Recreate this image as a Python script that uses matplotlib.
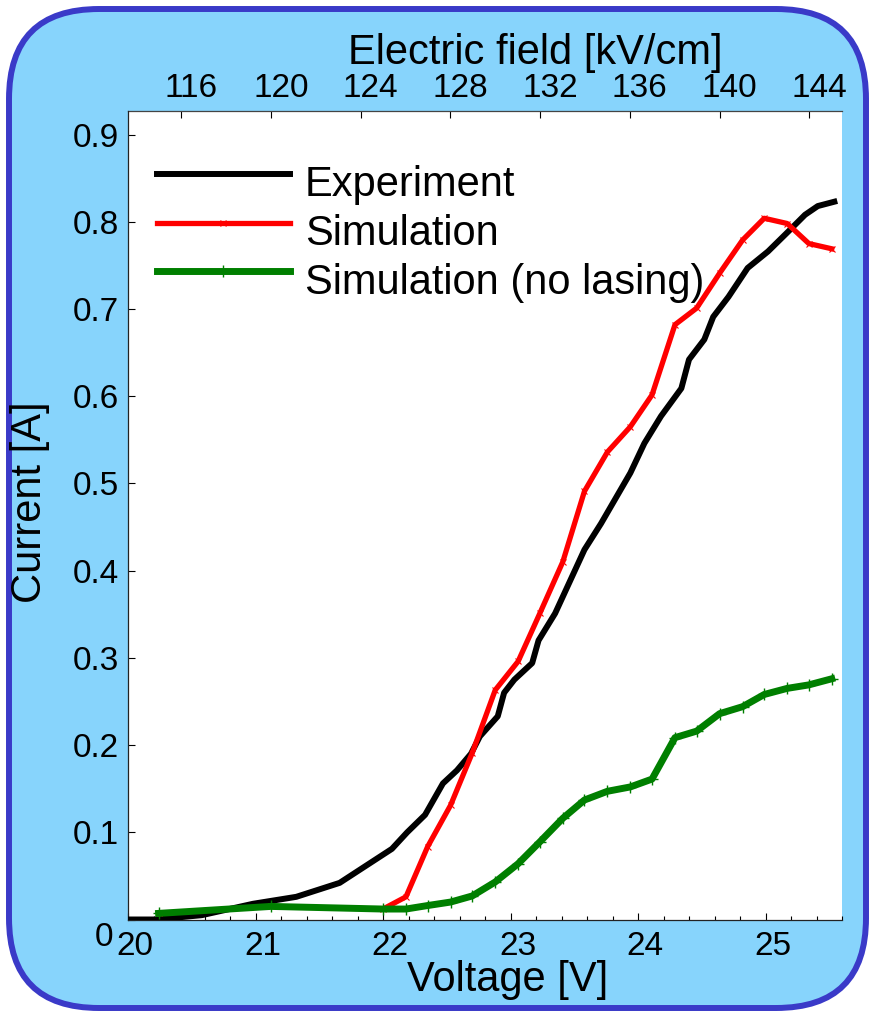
"""Current-voltage characteristic: experiment vs. simulation, with field scale on top."""
import matplotlib; matplotlib.use('Agg')
import matplotlib.pyplot as plt
from matplotlib.patches import FancyBboxPatch
from matplotlib.transforms import Affine2D, ScaledTranslation
from matplotlib.ticker import MultipleLocator

plt.rcParams['font.family'] = ['Liberation Sans', 'DejaVu Sans']

W, H = 875, 1014

# ----- measured curve -----
exp_volt = [20.00, 20.22, 20.58, 20.98, 21.32, 21.66, 22.07, 22.19, 22.33, 22.47,
            22.58, 22.69, 22.76, 22.90, 22.95, 23.03, 23.17, 23.22, 23.35, 23.58,
            23.71, 23.94, 24.05, 24.18, 24.34, 24.40, 24.52, 24.59, 24.71, 24.86,
            25.02, 25.18, 25.31, 25.41, 25.54]
exp_curr = [0.000, 0.000, 0.005, 0.018, 0.026, 0.042, 0.081, 0.100, 0.120, 0.156,
            0.171, 0.190, 0.210, 0.233, 0.260, 0.275, 0.294, 0.320, 0.351, 0.424,
            0.454, 0.512, 0.546, 0.577, 0.609, 0.642, 0.665, 0.691, 0.714, 0.747,
            0.766, 0.789, 0.808, 0.818, 0.823]

# ----- simulated points (one per field step) -----
sim_volt = [20.24, 21.12, 22.00, 22.18, 22.35, 22.53, 22.70, 22.88, 23.06, 23.23,
            23.41, 23.58, 23.76, 23.94, 24.11, 24.29, 24.46, 24.64, 24.82, 24.99,
            25.17, 25.34, 25.52]
sim_curr = [0.007, 0.015, 0.012, 0.026, 0.0835, 0.131, 0.191, 0.263, 0.296, 0.351,
            0.410, 0.491, 0.536, 0.565, 0.6015, 0.682, 0.701, 0.741, 0.779, 0.804,
            0.798, 0.775, 0.769]
nolase_curr = [0.007, 0.015, 0.012, 0.012, 0.016, 0.020, 0.027, 0.043, 0.064, 0.089,
               0.116, 0.137, 0.147, 0.152, 0.161, 0.2085, 0.216, 0.236, 0.244, 0.258,
               0.265, 0.269, 0.276]

volt_ticks = [20, 21, 22, 23, 24, 25]
curr_ticks = [0, 0.1, 0.2, 0.3, 0.4, 0.5, 0.6, 0.7, 0.8, 0.9]
curr_labels = ['0', '0.1', '0.2', '0.3', '0.4', '0.5', '0.6', '0.7', '0.8', '0.9']
field_ticks = [116, 120, 124, 128, 132, 136, 140, 144]

GAP_UM = 1.76  # active region thickness


def volt_to_field(v):
    return v * 10.0 / GAP_UM


def field_to_volt(e):
    return e * GAP_UM / 10.0


fig = plt.figure(figsize=(W / 100, H / 100), dpi=100, facecolor='white')


def nudge(artist, dx, dy):
    # shift a text artist by dx, dy pixels (dy positive = up)
    artist.set_transform(artist.get_transform() +
                         ScaledTranslation(dx / 100, dy / 100, fig.dpi_scale_trans))


# rounded light-blue panel behind everything
px = Affine2D().scale(1.0 / W, 1.0 / H) + fig.transFigure
panel = FancyBboxPatch((9, 6), 857, 999, boxstyle='round,pad=0,rounding_size=90',
                       transform=px, facecolor='#87D4FC', edgecolor='#3A3AC8',
                       linewidth=4.3, zorder=-10)
fig.patches.append(panel)

ax = fig.add_axes([128 / W, 1 - 919.5 / H, (842 - 128) / W, (919.5 - 111) / H])
ax.set_facecolor('white')

ax.plot(exp_volt, exp_curr, color='black', lw=4.3, label='Experiment', zorder=3)
ax.plot(sim_volt, sim_curr, color='#FF0000', lw=3.8, marker='x', ms=5, mew=0.8,
        label='Simulation', zorder=4)
ax.plot(sim_volt, nolase_curr, color='#007F00', lw=5.0, marker='+', ms=8, mew=1.0,
        label='Simulation (no lasing)', zorder=5)

ax.set_xlim(20, 25.6)
ax.set_ylim(0, 0.927)
ax.set_xticks(volt_ticks)
ax.xaxis.set_minor_locator(MultipleLocator(0.2))
ax.set_yticks(curr_ticks)
ax.set_yticklabels(curr_labels)

ax.tick_params(axis='both', which='both', direction='in', colors='black', width=0.8,
               labelsize=24)
ax.tick_params(axis='x', which='major', length=5, pad=8.5)
ax.tick_params(axis='x', which='minor', length=3)
ax.tick_params(axis='y', which='major', length=5, pad=6.5)

for side in ['right', 'top']:
    ax.spines[side].set_visible(False)
for side in ['left', 'bottom']:
    ax.spines[side].set_color('#222222')
    ax.spines[side].set_linewidth(0.9)

ax.set_xlabel('Voltage [V]', fontsize=30)
ax.xaxis.set_label_coords(0.532, -0.050)
ax.set_ylabel('Current [A]', fontsize=30)
ax.yaxis.set_label_coords(-0.109, 0.516)

# field scale on top
top = ax.secondary_xaxis('top', functions=(volt_to_field, field_to_volt))
top.set_xticks(field_ticks)
top.tick_params(direction='in', length=5, width=0.8, pad=5, labelsize=24)
top.spines['top'].set_color('#444444')
top.spines['top'].set_linewidth(0.9)
top.set_xlabel('Electric field [kV/cm]', fontsize=30)
top.xaxis.set_label_coords(0.571, 1.058, transform=ax.transAxes)

# tick labels sit a little right of their ticks; the zero current label drops below
for lbl in ax.get_xticklabels():
    nudge(lbl, 7, 0)
for lbl in top.get_xticklabels():
    nudge(lbl, 10, 0)
zero_lbl = ax.get_yticklabels()[0]
zero_lbl.set_va('top')
nudge(zero_lbl, -6, -3)

leg = ax.legend(loc='upper left', bbox_to_anchor=(0.0406, 0.9425), frameon=False,
                fontsize=30, handlelength=3.19, handletextpad=0.36, labelspacing=0.21,
                borderpad=0, borderaxespad=0, numpoints=1)
for t in leg.get_texts():
    nudge(t, 0, -8)

plt.savefig('out.png', dpi=100, facecolor='white')
plt.close()
